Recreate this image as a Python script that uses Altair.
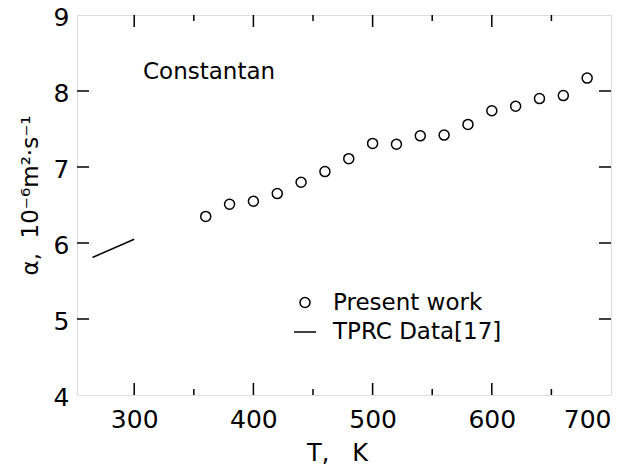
import altair as alt
import pandas as pd

# Present work
T_pw = [360, 380, 400, 420, 440, 460, 480, 500, 520, 540, 560, 580, 600, 620, 640, 660, 680]
a_pw = [6.35, 6.51, 6.55, 6.65, 6.80, 6.94, 7.11, 7.31, 7.30, 7.41, 7.42, 7.56, 7.74, 7.80, 7.90, 7.94, 8.17]
# TPRC Data[17]
T_tprc = [265, 300]
a_tprc = [5.81, 6.05]

series = ["Present work", "TPRC Data[17]"]
x_major = [300, 400, 500, 600]
x_minor = [350, 450, 550, 650]
x_labels = [300, 400, 500, 600, 700]
y_major = [5, 6, 7, 8]
y_labels = [4, 5, 6, 7, 8, 9]

W, H = 534, 380
FONT = "DejaVu Sans"
NB = "\u00a0"

pw = pd.DataFrame({"T": T_pw, "a": a_pw, "series": series[0]})
tp = pd.DataFrame({"T": T_tprc, "a": a_tprc, "series": series[1]})

xs = alt.Scale(domain=[252, 700], nice=False, zero=False)
ys = alt.Scale(domain=[4, 9], nice=False, zero=False)

xax = alt.Axis(values=x_labels, format="d", ticks=False, domain=False, grid=False,
               labelFontSize=25, labelPadding=12, labelFont=FONT, labelColor="black",
               title="T," + NB * 3 + "K", titleFontSize=24, titleFont=FONT, titleFontWeight="normal",
               titleColor="black", titleX=260, titleY=46, titleBaseline="top", titleAlign="center")
yax = alt.Axis(values=y_labels, format="d", ticks=False, domain=False, grid=False,
               labelFontSize=25, labelPadding=8, labelFont=FONT, labelColor="black",
               labelOffset=2,
               title="α," + NB * 2 + "10⁻⁶m²·s⁻¹", titleFontSize=23, titleFont=FONT,
               titleFontWeight="normal",
               titleColor="black", titleX=-47, titleY=180, titleBaseline="middle",
               titleAlign="center", titleAngle=270)

points = alt.Chart(pw).mark_point(filled=False, color="black", strokeWidth=1.5, opacity=1).encode(
    x=alt.X("T:Q", scale=xs, axis=xax),
    y=alt.Y("a:Q", scale=ys, axis=yax),
    shape=alt.Shape("series:O", scale=alt.Scale(domain=series, range=["circle", "stroke"]),
                    legend=alt.Legend(title=None, orient="none", legendX=216, legendY=276,
                                      labelFontSize=23, labelFont=FONT, labelColor="black",
                                      labelOffset=16, labelLimit=400, padding=0, rowPadding=5,
                                      symbolStrokeColor="black", symbolStrokeWidth=1.5,
                                      symbolFillColor="transparent")),
    size=alt.Size("series:O", scale=alt.Scale(domain=series, range=[100, 484])),
)

line = alt.Chart(tp).mark_line(color="black", strokeWidth=1.5).encode(
    x=alt.X("T:Q", scale=xs),
    y=alt.Y("a:Q", scale=ys),
)

dfx_maj = pd.DataFrame({"v": x_major})
dfx_min = pd.DataFrame({"v": x_minor})
dfy_maj = pd.DataFrame({"v": y_major})

def xt(df, y0, y1):
    return alt.Chart(df).mark_rule(color="black", strokeWidth=1.5).encode(
        x=alt.X("v:Q", scale=xs), y=alt.value(y0), y2=alt.value(y1))

def yt(df, x0, x1):
    return alt.Chart(df).mark_rule(color="black", strokeWidth=1.5).encode(
        y=alt.Y("v:Q", scale=ys), x=alt.value(x0), x2=alt.value(x1))

ticks = [
    xt(dfx_maj, H, H - 12), xt(dfx_min, H, H - 6),
    xt(dfx_maj, 0, 12), xt(dfx_min, 0, 6),
    yt(dfy_maj, 0, 12), yt(dfy_maj, W, W - 12),
]

chart = alt.layer(points, line, *ticks).properties(
    width=W, height=H,
    title=alt.TitleParams("Constantan", anchor="start", frame="group", orient="top",
                          dx=66, dy=79, offset=0, baseline="top", fontSize=23,
                          font=FONT, fontWeight="normal", color="black"),
    autosize=alt.AutoSizeParams(type="none"),
    padding={"left": 69, "top": 7, "right": 20, "bottom": 70},
).configure_view(stroke="black", strokeWidth=1.5).configure(background="white")

chart.save("out.html", embed_options={"renderer": "svg", "actions": False})
